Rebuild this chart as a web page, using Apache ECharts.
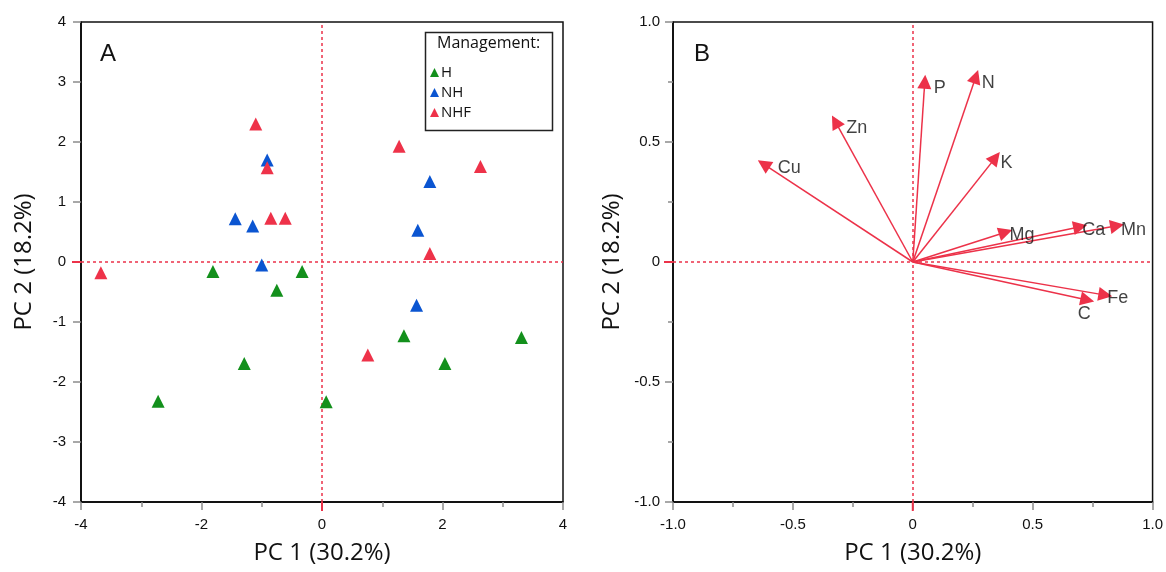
<!DOCTYPE html>
<html>
<head>
<meta charset="utf-8">
<script src="https://cdn.jsdelivr.net/npm/echarts@6/dist/echarts.min.js"></script>
<style>
  html, body { margin: 0; padding: 0; background: #ffffff; }
  #chart { width: 1166px; height: 572px; }
</style>
</head>
<body>
<div id="chart"></div>
<script>
// ---- Panel A: PCA scores by management group ----
const groupNames = ['H', 'NH', 'NHF'];
const scoresH = [
  [-1.81, -0.16], [-0.33, -0.16], [-0.75, -0.47], [-1.29, -1.69], [-2.72, -2.32],
  [0.07, -2.33], [1.36, -1.23], [2.04, -1.69], [3.31, -1.26]
];
const scoresNH = [
  [-0.91, 1.70], [-1.44, 0.72], [-1.15, 0.60], [-1.00, -0.05],
  [1.79, 1.34], [1.59, 0.53], [1.57, -0.72]
];
const scoresNHF = [
  [-3.67, -0.18], [-1.10, 2.30], [-0.91, 1.57], [-0.85, 0.73], [-0.61, 0.73],
  [1.28, 1.93], [2.63, 1.59], [1.79, 0.14], [0.76, -1.55]
];

// ---- Panel B: PCA loadings (arrow tips) ----
const loadingNames = ['P', 'N', 'Zn', 'Cu', 'K', 'Mg', 'Ca', 'Mn', 'Fe', 'C'];
const loadingPC1 = [0.05, 0.263, -0.323, -0.622, 0.345, 0.387, 0.698, 0.852, 0.803, 0.728];
const loadingPC2 = [0.751, 0.772, 0.585, 0.408, 0.435, 0.124, 0.147, 0.151, -0.138, -0.158];

// ---- Axis settings ----
const axisATicks = { min: -4, max: 4, xInterval: 2, yInterval: 1 };
const axisBTicks = { min: -1, max: 1, interval: 0.5 };
const xTitle = 'PC 1 (30.2%)';
const yTitle = 'PC 2 (18.2%)';
const legendTitle = 'Management:';

const RED = '#ec3249';
const colors = { H: '#13901c', NH: '#0b55d1', NHF: '#ee3249' };
const TICKFONT = 'Liberation Sans';
const TITLEFONT = 'Open Sans';

function axisCommon(extra) {
  return Object.assign({
    type: 'value',
    splitLine: { show: false },
    axisLine: { show: true, onZero: false, lineStyle: { color: '#000', width: 1.5 } },
    axisTick: { show: true, length: 8, lineStyle: { color: '#8c8c8c', width: 1.5 } },
    minorTick: { show: true, splitNumber: 2, length: 5, lineStyle: { color: '#8c8c8c', width: 1.5 } },
    nameLocation: 'middle',
    nameTextStyle: { color: '#111', fontFamily: TITLEFONT, fontSize: 24 }
  }, extra);
}
function tickLabel(margin, formatter) {
  const l = { color: '#111', fontFamily: TICKFONT, fontSize: 15, margin: margin };
  if (formatter) l.formatter = formatter;
  return l;
}

const fmtB = v => (v === 0 ? '0' : v.toFixed(1));

const zeroLines = {
  silent: true,
  symbol: 'none',
  label: { show: false },
  lineStyle: { color: RED, type: [3, 3], width: 1.5 },
  data: [{ xAxis: 0 }, { yAxis: 0 }]
};

// red solid ticks where the origin lines meet the axes
function zeroTicks(axisIdx, min) {
  return {
    type: 'custom',
    xAxisIndex: axisIdx, yAxisIndex: axisIdx,
    clip: false, silent: true, z: 9,
    data: [[min, min]],
    renderItem: function (params, api) {
      const bottom = api.coord([0, min]);
      const left = api.coord([min, 0]);
      const style = { stroke: RED, lineWidth: 2 };
      return {
        type: 'group',
        children: [
          { type: 'line', shape: { x1: bottom[0], y1: bottom[1], x2: bottom[0], y2: bottom[1] + 9 }, style: style },
          { type: 'line', shape: { x1: left[0] - 9, y1: left[1], x2: left[0], y2: left[1] }, style: style }
        ]
      };
    }
  };
}

const series = [];
const groups = [scoresH, scoresNH, scoresNHF];
groups.forEach((g, i) => {
  series.push({
    name: groupNames[i],
    type: 'scatter',
    xAxisIndex: 0, yAxisIndex: 0,
    symbol: 'triangle',
    symbolSize: [13, 13],
    itemStyle: { color: colors[groupNames[i]], opacity: 1 },
    data: g,
    z: 5,
    markLine: i === 0 ? zeroLines : undefined
  });
});

// arrows
series.push({
  type: 'lines',
  coordinateSystem: 'cartesian2d',
  xAxisIndex: 1, yAxisIndex: 1,
  symbol: ['none', 'triangle'],
  symbolSize: [11, 14],
  symbolOffset: [[0, 0], [0, 7]],
  lineStyle: { color: RED, width: 1.5, opacity: 1 },
  itemStyle: { color: RED },
  data: loadingNames.map((n, i) => ({ coords: [[0, 0], [loadingPC1[i], loadingPC2[i]]] })),
  z: 4,
  markLine: zeroLines
});

// label placement next to each arrow tip: [dx, dy] in pixels
const labelShift = {
  P: [9, 6], N: [6, 6], Zn: [11, 6], Cu: [14, 4], K: [5, 5],
  Mg: [4, 3], Ca: [2, 3], Mn: [4, 4], Fe: [2, 3], C: [-3, 14]
};
series.push({
  type: 'scatter',
  xAxisIndex: 1, yAxisIndex: 1,
  symbolSize: 0,
  silent: true,
  data: loadingNames.map((n, i) => ({
    value: [loadingPC1[i], loadingPC2[i]],
    name: n,
    label: {
      show: true,
      position: n === 'C' ? 'inside' : 'right',
      distance: 0,
      offset: labelShift[n]
    }
  })),
  label: {
    formatter: p => p.name,
    color: '#111',
    fontFamily: TICKFONT,
    fontSize: 18
  },
  z: 6
});

series.push(zeroTicks(0, axisATicks.min));
series.push(zeroTicks(1, axisBTicks.min));

const option = {
  backgroundColor: '#ffffff',
  animation: false,
  grid: [
    { left: 81, top: 22, width: 482, height: 480, show: true, borderColor: '#111', borderWidth: 1.5, containLabel: false },
    { left: 673, top: 22, width: 481, height: 480, show: true, borderColor: '#111', borderWidth: 1.5, containLabel: false }
  ],
  xAxis: [
    axisCommon({ gridIndex: 0, min: axisATicks.min, max: axisATicks.max, interval: axisATicks.xInterval,
      name: xTitle, nameGap: 39, axisLabel: tickLabel(15) }),
    axisCommon({ gridIndex: 1, min: axisBTicks.min, max: axisBTicks.max, interval: axisBTicks.interval,
      name: xTitle, nameGap: 39, axisLabel: tickLabel(15, fmtB) })
  ],
  yAxis: [
    axisCommon({ gridIndex: 0, min: axisATicks.min, max: axisATicks.max, interval: axisATicks.yInterval,
      minorTick: { show: false },
      name: yTitle, nameGap: 45, axisLabel: tickLabel(15) }),
    axisCommon({ gridIndex: 1, min: axisBTicks.min, max: axisBTicks.max, interval: axisBTicks.interval,
      name: yTitle, nameGap: 49, axisLabel: tickLabel(13, fmtB) })
  ],
  legend: {
    data: groupNames,
    orient: 'vertical',
    left: 425, top: 60,
    itemWidth: 9, itemHeight: 9,
    itemGap: 5,
    icon: 'triangle',
    textStyle: { color: '#111', fontFamily: TITLEFONT, fontSize: 15, padding: [0, 0, 0, -3] },
    selectedMode: false
  },
  graphic: [
    { type: 'rect', left: 423, top: 30, shape: { width: 127, height: 98 },
      style: { fill: 'none', stroke: '#222', lineWidth: 1.5 }, z: 10 },
    { type: 'text', left: 437, top: 35, style: { text: legendTitle, fill: '#111', font: '16px ' + TITLEFONT }, z: 10 },
    { type: 'text', left: 100, top: 42, style: { text: 'A', fill: '#111', font: '24px ' + TICKFONT }, z: 10 },
    { type: 'text', left: 694, top: 42, style: { text: 'B', fill: '#111', font: '24px ' + TICKFONT }, z: 10 }
  ],
  series: series
};

const chart = echarts.init(document.getElementById('chart'), null, { renderer: 'canvas' });
chart.setOption(option);
</script>
</body>
</html>
